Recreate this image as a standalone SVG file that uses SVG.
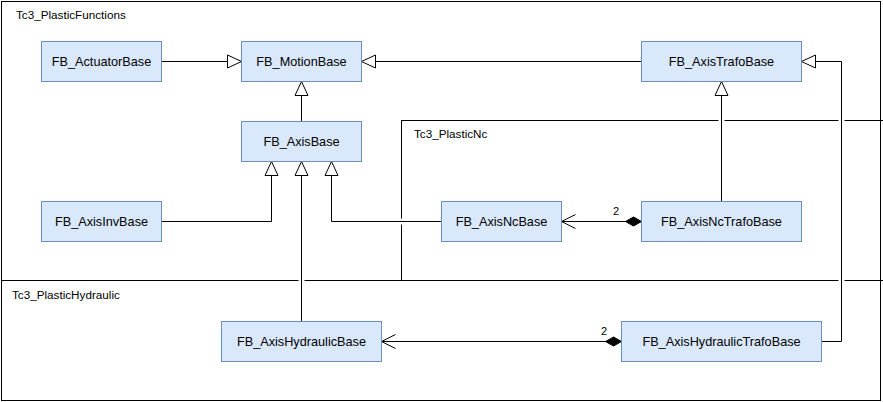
<svg xmlns="http://www.w3.org/2000/svg" width="883" height="402" viewBox="0 0 883 402">
<style>
.container{fill:none;stroke:#000;stroke-width:1}
.node rect{fill:#dae8fc;stroke:#6c8ebf;stroke-width:1}
.node text{font-family:"Liberation Sans",Arial,Helvetica,sans-serif;font-size:12.7px;fill:#000;text-anchor:middle}
.clabel{font-family:"Liberation Sans",Arial,Helvetica,sans-serif;font-size:11.7px;fill:#000}
.conn{fill:none;stroke:#000;stroke-width:1}
.gap{fill:#fff;stroke:none}
.mult{font-family:"Liberation Sans",Arial,Helvetica,sans-serif;font-size:11px;fill:#000;text-anchor:middle}
</style>
<defs>
<marker id="tri" markerUnits="userSpaceOnUse" markerWidth="18" markerHeight="18" refX="15" refY="8" orient="auto">
<path d="M1,1.5 L15,8 L1,14.5 Z" fill="#fff" stroke="#000" stroke-width="1"/>
</marker>
<marker id="open" markerUnits="userSpaceOnUse" markerWidth="18" markerHeight="18" refX="15" refY="8" orient="auto">
<path d="M1,1 L15,8 L1,15" fill="none" stroke="#000" stroke-width="1"/>
</marker>
<marker id="dia" markerUnits="userSpaceOnUse" markerWidth="18" markerHeight="12" refX="0" refY="5" orient="auto">
<path d="M0,5 L8,0.5 L16,5 L8,9.5 Z" fill="#000" stroke="#000" stroke-width="1"/>
</marker>
</defs>
<rect width="883" height="402" fill="#fff"/>
<g id="Tc3_PlasticFunctions">
<rect class="container" x="1.5" y="1.5" width="879" height="399"/>
<text class="clabel" x="16" y="19">Tc3_PlasticFunctions</text>
</g>
<g id="Tc3_PlasticNc">
<rect class="container" x="401.5" y="120.5" width="490" height="160"/>
<text class="clabel" x="414" y="138">Tc3_PlasticNc</text>
</g>
<g id="Tc3_PlasticHydraulic">
<rect class="container" x="1.5" y="280.5" width="879" height="120"/>
<text class="clabel" x="12" y="299">Tc3_PlasticHydraulic</text>
</g>
<g id="gaps">
<rect class="gap" x="718.5" y="119" width="6" height="3"/>
<rect class="gap" x="838.5" y="119" width="6" height="3"/>
<rect class="gap" x="298.5" y="279" width="6" height="3"/>
<rect class="gap" x="838.5" y="279" width="6" height="3"/>
<rect class="gap" x="400" y="218.5" width="3" height="6"/>
</g>
<g id="connectors">
<path class="conn" d="M161.5,61.5 L241.5,61.5" marker-end="url(#tri)"/>
<path class="conn" d="M641.5,61.5 L361.5,61.5" marker-end="url(#tri)"/>
<path class="conn" d="M301.5,121.5 L301.5,81.5" marker-end="url(#tri)"/>
<path class="conn" d="M161.5,221.5 L271.5,221.5 L271.5,161.5" marker-end="url(#tri)"/>
<path class="conn" d="M301.5,321.5 L301.5,161.5" marker-end="url(#tri)"/>
<path class="conn" d="M441.5,221.5 L331.5,221.5 L331.5,161.5" marker-end="url(#tri)"/>
<path class="conn" d="M721.5,201.5 L721.5,81.5" marker-end="url(#tri)"/>
<path class="conn" d="M821.5,341.5 L841.5,341.5 L841.5,61.5 L801.5,61.5" marker-end="url(#tri)"/>
<path class="conn" d="M641.5,221.5 L561.5,221.5" marker-start="url(#dia)" marker-end="url(#open)"/>
<text class="mult" x="616" y="215">2</text>
<path class="conn" d="M621.5,341.5 L381.5,341.5" marker-start="url(#dia)" marker-end="url(#open)"/>
<text class="mult" x="604" y="335">2</text>
</g>
<g id="FB_ActuatorBase" class="node"><rect x="41.5" y="41.5" width="120" height="40"/><text x="101.5" y="65.5">FB_ActuatorBase</text></g>
<g id="FB_MotionBase" class="node"><rect x="241.5" y="41.5" width="120" height="40"/><text x="301.5" y="65.5">FB_MotionBase</text></g>
<g id="FB_AxisTrafoBase" class="node"><rect x="641.5" y="41.5" width="160" height="40"/><text x="721.5" y="65.5">FB_AxisTrafoBase</text></g>
<g id="FB_AxisBase" class="node"><rect x="241.5" y="121.5" width="120" height="40"/><text x="301.5" y="145.5">FB_AxisBase</text></g>
<g id="FB_AxisInvBase" class="node"><rect x="41.5" y="201.5" width="120" height="40"/><text x="101.5" y="225.5">FB_AxisInvBase</text></g>
<g id="FB_AxisNcBase" class="node"><rect x="441.5" y="201.5" width="120" height="40"/><text x="501.5" y="225.5">FB_AxisNcBase</text></g>
<g id="FB_AxisNcTrafoBase" class="node"><rect x="641.5" y="201.5" width="160" height="40"/><text x="721.5" y="225.5">FB_AxisNcTrafoBase</text></g>
<g id="FB_AxisHydraulicBase" class="node"><rect x="221.5" y="321.5" width="160" height="40"/><text x="301.5" y="345.5">FB_AxisHydraulicBase</text></g>
<g id="FB_AxisHydraulicTrafoBase" class="node"><rect x="621.5" y="321.5" width="200" height="40"/><text x="721.5" y="345.5">FB_AxisHydraulicTrafoBase</text></g>
</svg>
